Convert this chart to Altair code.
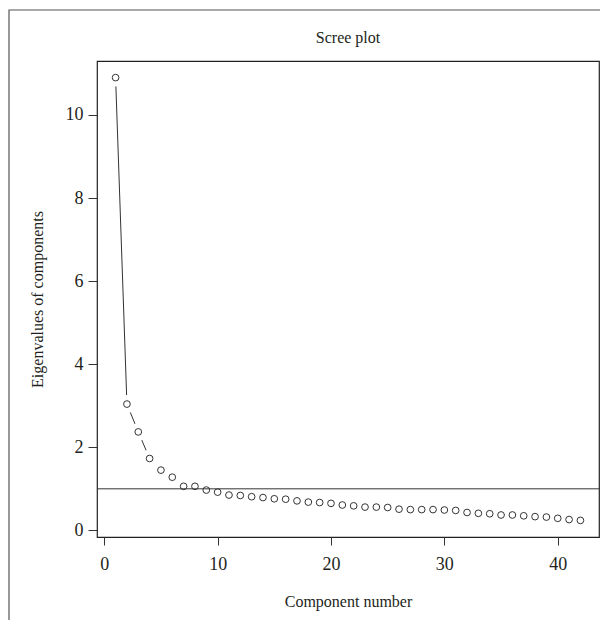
import altair as alt
import pandas as pd

components = list(range(1, 43))
eigenvalues = [10.9, 3.04, 2.37, 1.73, 1.45, 1.28, 1.06, 1.06, 0.97, 0.92,
               0.85, 0.84, 0.81, 0.79, 0.76, 0.75, 0.71, 0.68, 0.67, 0.65,
               0.61, 0.59, 0.56, 0.56, 0.55, 0.51, 0.50, 0.50, 0.50, 0.49,
               0.48, 0.43, 0.41, 0.40, 0.37, 0.37, 0.35, 0.33, 0.32, 0.29,
               0.26, 0.24]
x_ticks = [0, 10, 20, 30, 40]
y_ticks = [0, 2, 4, 6, 8, 10]
cutoff = [1.0]
title_text = ["Scree plot"]

df = pd.DataFrame({"comp": components, "eig": eigenvalues})
FONT = "Liberation Serif"
INK = "#231f20"

xs = alt.Scale(domain=[-0.64, 43.64], nice=False, zero=False)
ys = alt.Scale(domain=[-0.16, 11.30], nice=False, zero=False)

x_axis = alt.Axis(values=x_ticks, title="Component number", grid=False, domain=False,
                  tickSize=8, tickColor="#333", labelPadding=10,
                  titleBaseline="middle", titleY=64)
y_axis = alt.Axis(values=y_ticks, title="Eigenvalues of components", grid=False,
                  domain=False, tickSize=9, tickColor="#333", labelPadding=5,
                  titleBaseline="middle", titleAlign="center", titleAngle=-90,
                  titleX=-60, titleY=238)

X = alt.X("comp:Q", scale=xs, axis=x_axis)
Y = alt.Y("eig:Q", scale=ys, axis=y_axis)

base = alt.Chart(df).encode(x=X, y=Y)

border = alt.Chart(alt.Data(values=[{"k": 1}])).mark_rect(
    fill="transparent", stroke="#555", strokeWidth=1.2
).encode(x=alt.value(-88), x2=alt.value(520), y=alt.value(-51), y2=alt.value(700))

title = alt.Chart(pd.DataFrame({"t": title_text})).mark_text(
    font=FONT, fontSize=16, color=INK, align="center", baseline="middle"
).encode(text="t:N", x=alt.value(251), y=alt.value(-23))

line = base.mark_line(color="#333", strokeWidth=1)
mask = base.mark_point(shape="circle", filled=True, color="white", opacity=1,
                       size=324, strokeWidth=0)
points = base.mark_point(shape="circle", filled=False, color="#333", opacity=1,
                         size=45, strokeWidth=1)
rule = alt.Chart(pd.DataFrame({"y": cutoff})).mark_rule(
    color="#333", strokeWidth=1).encode(y=alt.Y("y:Q", scale=ys, axis=y_axis))

chart = alt.layer(border, title, line, mask, points, rule).properties(
    width=502, height=476,
    autosize=alt.AutoSizeParams(type="none"),
    padding={"left": 89, "top": 53, "right": 1, "bottom": 83},
    background="white",
).configure_view(stroke="#222", strokeWidth=1.2).configure_axis(
    labelFont=FONT, labelFontSize=18, labelColor=INK,
    titleFont=FONT, titleFontSize=16, titleFontWeight="normal", titleColor=INK,
)

chart.save("out.html", embed_options={"renderer": "svg", "actions": False})
